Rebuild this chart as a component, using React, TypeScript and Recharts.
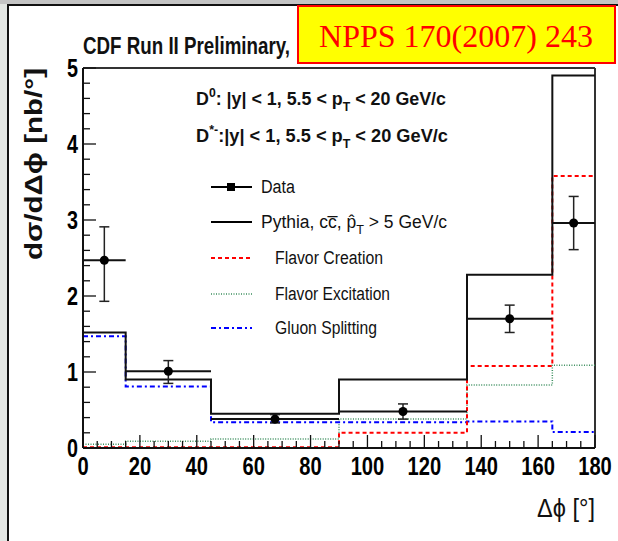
import { ComposedChart, Line, Scatter, ErrorBar, XAxis, YAxis, ReferenceLine } from "recharts";

// bin edges of the histograms (degrees)
const binEdges = [0, 15, 45, 90, 135, 165, 180];
// per-bin contents, nb/deg
const pythia = [1.52, 0.9, 0.45, 0.9, 2.28, 4.9];
const flavorCreation = [0.01, 0.01, 0.01, 0.2, 1.08, 3.58];
const flavorExcitation = [0.05, 0.09, 0.12, 0.38, 0.83, 1.09];
const gluonSplitting = [1.47, 0.81, 0.34, 0.34, 0.35, 0.21];

// CDF data points
const dataX = [7.5, 30, 67.5, 112.5, 150, 172.5];
const dataY = [2.47, 1.01, 0.38, 0.48, 1.7, 2.96];
const dataErrLow = [0.54, 0.16, 0.05, 0.1, 0.18, 0.35];
const dataErrHigh = [0.44, 0.14, 0.06, 0.1, 0.18, 0.35];
const dataHalfWidth = [7.5, 15, 22.5, 22.5, 15, 7.5];

const xTickLabels = [0, 20, 40, 60, 80, 100, 120, 140, 160, 180];
const yTickLabels = [0, 1, 2, 3, 4, 5];

const FONT = "'Liberation Sans', Arial, Helvetica, sans-serif";

// step rows: one per edge, last bin repeated so stepAfter closes at 180
const histRows = binEdges.map((x, i) => {
  const k = Math.min(i, pythia.length - 1);
  return {
    x,
    pythia: pythia[k],
    fc: flavorCreation[k],
    fe: flavorExcitation[k],
    gs: gluonSplitting[k],
  };
});

const points = dataX.map((x, i) => ({
  x,
  y: dataY[i],
  yErr: [dataErrLow[i], dataErrHigh[i]],
  xErr: dataHalfWidth[i],
}));

// minor ticks every 5 deg / 0.2 nb
const xMinor = Array.from({ length: 37 }, (_, i) => i * 5);
const yMinor = Array.from({ length: 26 }, (_, i) => Math.round(i * 2) / 10);

const XTick = (props: any) => {
  const { x, y, payload } = props;
  const v = payload.value;
  const major = xTickLabels.includes(v);
  const s = String(v);
  return (
    <g>
      <line x1={x} x2={x} y1={y} y2={y - (major ? 13 : 7)} stroke="#111" strokeWidth={1.3} />
      {major && (
        <text x={x} y={y + 27} textAnchor="middle" fontFamily={FONT} fontWeight="bold" fontSize={26}
          textLength={s.length * 11.2} lengthAdjust="spacingAndGlyphs" fill="#000">
          {s}
        </text>
      )}
    </g>
  );
};

const YTick = (props: any) => {
  const { x, y, payload } = props;
  const v = payload.value;
  const major = yTickLabels.includes(v);
  return (
    <g>
      <line x1={x} x2={x + (major ? 13 : 7)} y1={y} y2={y} stroke="#111" strokeWidth={1.3} />
      {major && (
        <text x={x - 5} y={y + 9} textAnchor="end" fontFamily={FONT} fontWeight="bold" fontSize={26}
          textLength={11} lengthAdjust="spacingAndGlyphs" fill="#000">
          {v}
        </text>
      )}
    </g>
  );
};

function Overlay() {
  const txt = { fontFamily: FONT, fill: "#111", lengthAdjust: "spacingAndGlyphs" as const };
  return (
    <svg width={618} height={541} style={{ position: "absolute", left: 0, top: 0, pointerEvents: "none" }}>
      <text x={83} y={54} {...txt} fontWeight="bold" fontSize={23} textLength={207}>
        CDF Run II Preliminary,
      </text>
      <rect x={298} y={6} width={317} height={57} fill="#ffff00" stroke="#ff0000" strokeWidth={2} />
      <text x={456} y={47} textAnchor="middle" fontFamily="'Liberation Serif', 'Times New Roman', serif" fontSize={32} fill="#ff0000">
        NPPS 170(2007) 243
      </text>

      {/* selection text */}
      <text x={196} y={105} {...txt} fontWeight="bold" fontSize={19} textLength={250}>
        D<tspan dy={-8} fontSize={13}>0</tspan>
        <tspan dy={8}>: |y| &lt; 1, 5.5 &lt; p</tspan>
        <tspan dy={6} fontSize={13}>T</tspan>
        <tspan dy={-6}> &lt; 20 GeV/c</tspan>
      </text>
      <text x={196} y={142} {...txt} fontWeight="bold" fontSize={19} textLength={252}>
        D<tspan dy={-8} fontSize={13}>*-</tspan>
        <tspan dy={8}>:|y| &lt; 1, 5.5 &lt; p</tspan>
        <tspan dy={6} fontSize={13}>T</tspan>
        <tspan dy={-6}> &lt; 20 GeV/c</tspan>
      </text>

      {/* legend */}
      <line x1={211} x2={252} y1={187} y2={187} stroke="#000" strokeWidth={2} />
      <rect x={227} y={183} width={8} height={8} fill="#000" />
      <text x={261} y={193} {...txt} fontSize={18} textLength={34}>Data</text>

      <line x1={211} x2={252} y1={222} y2={222} stroke="#000" strokeWidth={2} />
      <text x={261} y={228} {...txt} fontSize={18} textLength={186}>
        Pythia, c{"c\u0305"}, {"p\u0302"}
        <tspan dy={6} fontSize={13}>T</tspan>
        <tspan dy={-6}> &gt; 5 GeV/c</tspan>
      </text>

      <line x1={211} x2={252} y1={258} y2={258} stroke="#ff0000" strokeWidth={2} strokeDasharray="4 3" />
      <text x={275} y={264} {...txt} fontSize={18} textLength={108}>Flavor Creation</text>

      <line x1={211} x2={252} y1={294} y2={294} stroke="#3d8f5f" strokeWidth={1.5} strokeDasharray="1 1.5" />
      <text x={275} y={300} {...txt} fontSize={18} textLength={115}>Flavor Excitation</text>

      <line x1={211} x2={252} y1={328} y2={328} stroke="#0000ff" strokeWidth={2} strokeDasharray="5 3 2 3" />
      <text x={275} y={334} {...txt} fontSize={18} textLength={102}>Gluon Splitting</text>

      {/* axis titles */}
      <text transform="translate(33,164) rotate(-90)" textAnchor="middle" dominantBaseline="central" {...txt}
        fontWeight="bold" fontSize={24} textLength={192}>
        dσ/dΔϕ [nb/°]
      </text>
      <text x={595} y={517} textAnchor="end" {...txt} fontSize={26} textLength={58}>
        Δϕ [°]
      </text>
    </svg>
  );
}

export default function App() {
  return (
    <div style={{ position: "absolute", left: 0, top: 0, width: 618, height: 541, background: "#fff", overflow: "hidden" }}>
      <div style={{ position: "absolute", left: 0, top: 0, width: 8, height: 541, background: "#e3e6e3" }} />
      <div style={{ position: "absolute", left: 0, top: 0, width: 618, height: 4, background: "#c4c4c4" }} />
      <div style={{ position: "absolute", left: 7, top: 4, width: 611, height: 2, background: "#111" }} />
      <div style={{ position: "absolute", left: 7, top: 4, width: 2, height: 537, background: "#111" }} />

      <div style={{ position: "absolute", left: 0, top: 0 }}>
        <ComposedChart width={618} height={541} data={histRows} margin={{ top: 68, right: 23, bottom: 53, left: 43 }}>
          <XAxis
            dataKey="x"
            type="number"
            domain={[0, 180]}
            ticks={xMinor}
            interval={0}
            tickSize={0}
            tickMargin={0}
            height={40}
            tick={<XTick />}
            axisLine={{ stroke: "#111", strokeWidth: 2 }}
            allowDataOverflow
          />
          <YAxis
            type="number"
            domain={[0, 5]}
            ticks={yMinor}
            interval={0}
            tickSize={0}
            tickMargin={0}
            width={40}
            tick={<YTick />}
            axisLine={{ stroke: "#111", strokeWidth: 2 }}
            allowDataOverflow
          />
          <ReferenceLine y={5} stroke="#333" strokeWidth={2} />
          <ReferenceLine x={180} stroke="#333" strokeWidth={2} />

          <Line type="stepAfter" dataKey="fe" stroke="#3d8f5f" strokeWidth={1.5} strokeDasharray="1 1.5" dot={false} isAnimationActive={false} />
          <Line type="stepAfter" dataKey="gs" stroke="#0000ff" strokeWidth={2} strokeDasharray="5 3 2 3" dot={false} isAnimationActive={false} />
          <Line type="stepAfter" dataKey="fc" stroke="#ff0000" strokeWidth={2} strokeDasharray="4 3" dot={false} isAnimationActive={false} />
          <Line type="stepAfter" dataKey="pythia" stroke="#111" strokeWidth={2} dot={false} isAnimationActive={false} />

          <Scatter data={points} dataKey="y" fill="#000" shape="circle" isAnimationActive={false}>
            <ErrorBar dataKey="yErr" direction="y" width={5} stroke="#222" strokeWidth={1.5} />
            <ErrorBar dataKey="xErr" direction="x" width={0} stroke="#111" strokeWidth={2} />
          </Scatter>
        </ComposedChart>
      </div>
      <Overlay />
    </div>
  );
}
